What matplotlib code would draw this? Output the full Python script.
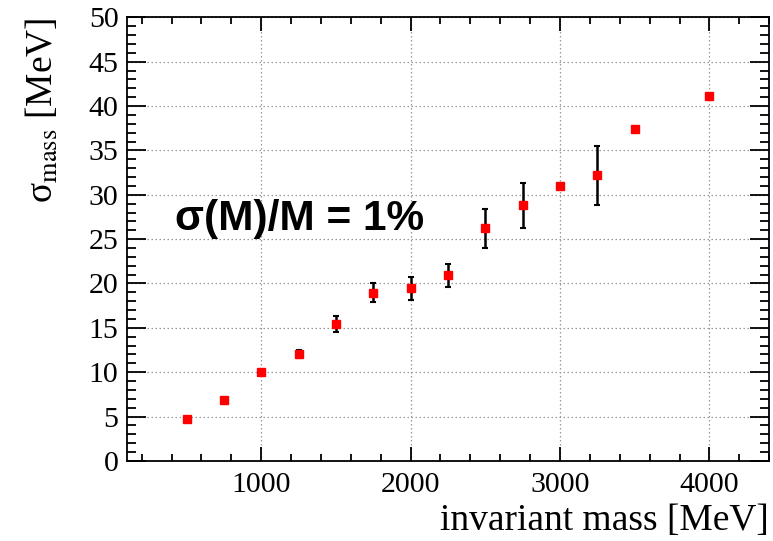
import matplotlib
matplotlib.use("Agg")
import matplotlib.pyplot as plt
import matplotlib.ticker as ticker

# data
mass   = [500, 750, 1000, 1250, 1500, 1750, 2000, 2250, 2500, 2750, 3000, 3250, 3500, 4000]
sigma  = [4.67, 6.84, 9.97, 12.05, 15.45, 18.98, 19.45, 20.9, 26.2, 28.8, 31.0, 32.2, 37.45, 41.1]
sigerr = [0.0, 0.0, 0.0, 0.5, 0.9, 1.1, 1.3, 1.35, 2.15, 2.5, 0.0, 3.3, 0.0, 0.0]

plt.rcParams["font.family"] = ["Liberation Serif", "DejaVu Serif"]
plt.rcParams["mathtext.fontset"] = "stix"

fig = plt.figure(figsize=(7.73, 5.41), dpi=100)
ax = fig.add_axes([0.164, 0.148, 0.831, 0.820])

ax.errorbar(mass, sigma, yerr=sigerr, fmt="none", ecolor="black",
            elinewidth=1.8, capsize=2, capthick=1.5, zorder=3)
ax.plot(mass, sigma, ls="none", marker="s", ms=6.2, mfc="#ff0000",
        mec="#ff0000", zorder=4)

ax.set_xlim(100, 4400)
ax.set_ylim(0, 50)
ax.xaxis.set_major_locator(ticker.MultipleLocator(1000))
ax.xaxis.set_minor_locator(ticker.MultipleLocator(200))
ax.yaxis.set_major_locator(ticker.MultipleLocator(5))
ax.yaxis.set_minor_locator(ticker.MultipleLocator(1))

ax.tick_params(which="both", direction="in", top=True, right=True,
               width=1.3, labelsize=21.5)
ax.tick_params(axis="x", which="major", length=10, pad=8)
ax.tick_params(axis="x", which="minor", length=5)
ax.tick_params(axis="y", which="major", length=13.5, pad=6)
ax.tick_params(axis="y", which="minor", length=6.5)
for s in ax.spines.values():
    s.set_linewidth(1.3)

ax.grid(which="major", color="#999999", ls=(0, (1.2, 2)), lw=0.9)
ax.set_axisbelow(True)

ax.set_xlabel("invariant mass [MeV]", fontsize=27, loc="right", labelpad=4)
ax.set_ylabel("σ$_{\\mathrm{mass}}$ [MeV]", fontsize=27, loc="top", labelpad=20)

ax.text(426, 26.0, "σ(M)/M = 1%", fontsize=30.5, fontweight="bold",
        family=["Liberation Sans", "DejaVu Sans"], ha="left", va="baseline")

fig.savefig("out.png", dpi=100)
